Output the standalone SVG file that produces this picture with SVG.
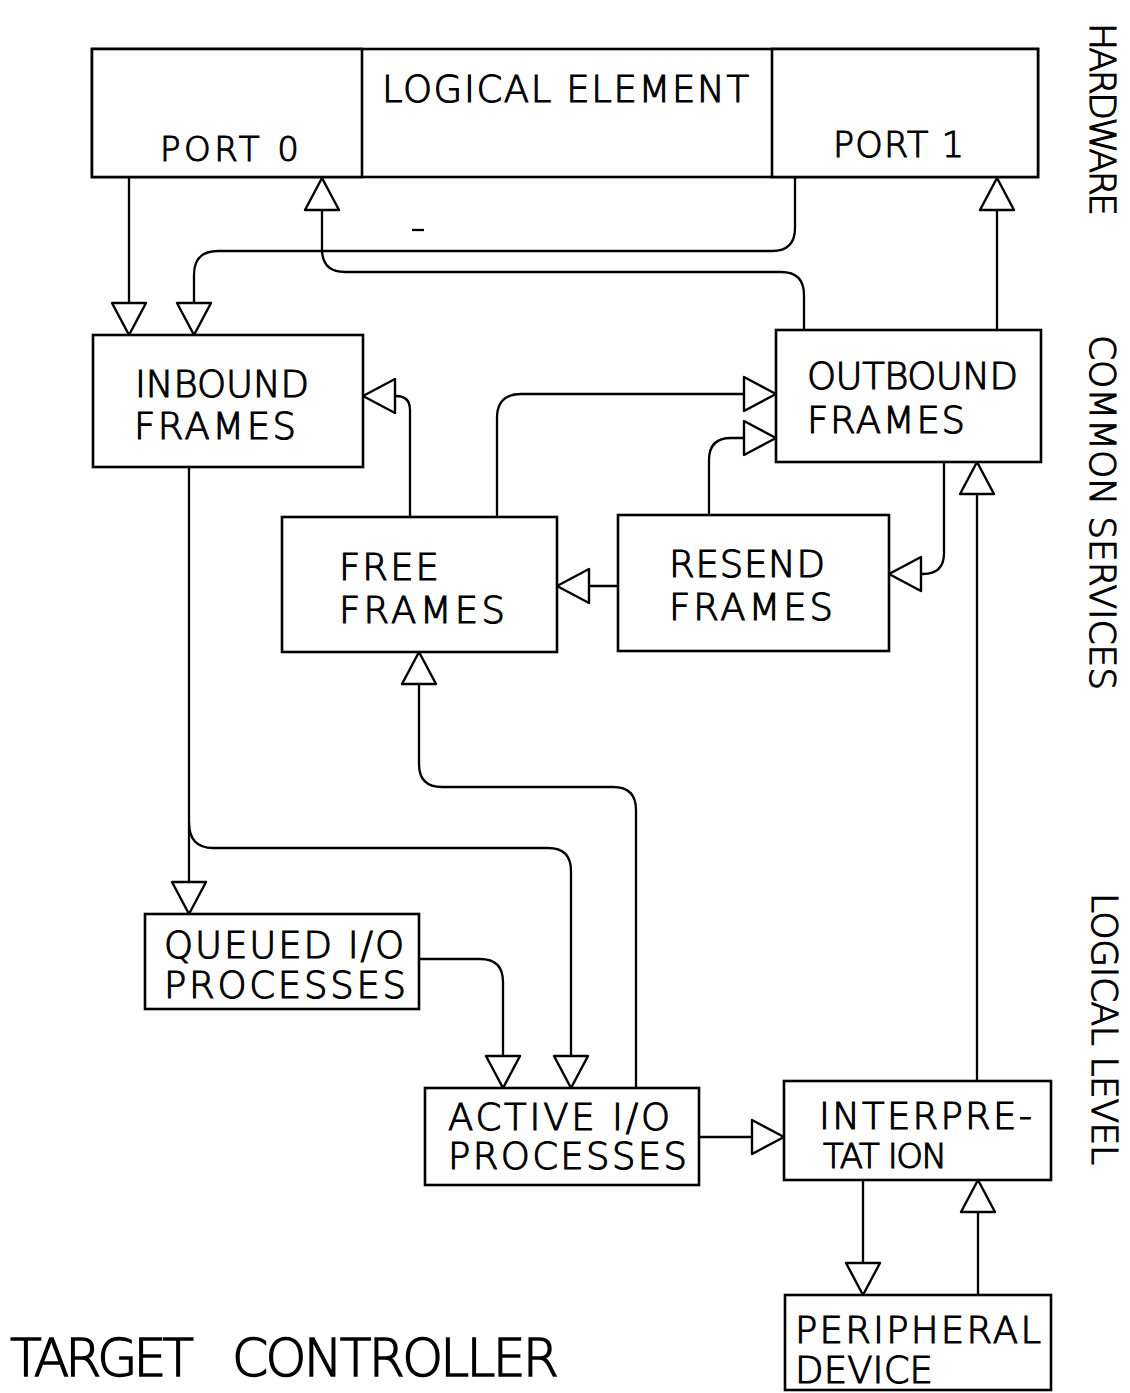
<svg xmlns="http://www.w3.org/2000/svg" width="1130" height="1393" viewBox="0 0 1130 1393">
<style>
.box{fill:#fff;stroke:#000;stroke-width:2.6}
.ln{fill:none;stroke:#000;stroke-width:2.3;marker-end:url(#ah)}
.plain{fill:none;stroke:#000;stroke-width:2.3}
.t{font-family:"DejaVu Sans","Liberation Sans",sans-serif;font-weight:200;font-size:37px;fill:#000;stroke:#000;stroke-width:1.1}
.big{font-size:52px;stroke-width:1.4}
</style>
<defs>
<marker id="ah" markerUnits="userSpaceOnUse" markerWidth="40" markerHeight="40" refX="32" refY="17" orient="auto" overflow="visible">
<path d="M0,0 L32,17 L0,34 Z" fill="#fff" stroke="#000" stroke-width="2.4" stroke-linejoin="round"/>
</marker>
</defs>
<rect width="1130" height="1393" fill="#fff"/>

<g id="connectors">
<path class="ln" d="M129 178 V335"/>
<path class="ln" d="M795 178 V228 Q795 251 772 251 H218 Q194 251 194 275 V335"/>
<path class="ln" d="M804 330 V295 Q804 272 781 272 H345 Q322 272 322 249 V178"/>
<path class="ln" d="M997 330 V178"/>
<path class="ln" d="M189 467 V914"/>
<path class="ln" d="M189 822 Q189 848 213 848 H548 Q571 848 571 871 V1088"/>
<path class="ln" d="M636 1088 V810 Q636 787 613 787 H442 Q419 787 419 764 V652"/>
<path class="ln" d="M419 959 H480 Q503 959 503 982 V1088"/>
<path class="ln" d="M699 1137 H784"/>
<path class="ln" d="M863 1180 V1295"/>
<path class="ln" d="M978 1295 V1180"/>
<path class="ln" d="M977 1081 V462"/>
<path class="ln" d="M410 517 V410 Q410 396 396 396 H363"/>
<path class="ln" d="M497 517 V418 Q497 394 521 394 H776"/>
<path class="ln" d="M709 515 V460 Q709 438 731 438 H776"/>
<path class="ln" d="M618 586 H557"/>
<path class="ln" d="M944 462 V553 Q944 574 923 574 H889"/>
<path class="plain" d="M412 230 H424" stroke-width="3"/>
</g>

<g id="logical-element">
<rect class="box" x="92" y="49" width="946" height="128"/>
<text class="t" x="382" y="102" textLength="367" lengthAdjust="spacing">LOGICAL ELEMENT</text>
</g>
<g id="port0">
<rect class="box" x="92" y="49" width="270" height="128"/>
<text class="t" x="160" y="161" style="font-size:34px" textLength="139" lengthAdjust="spacing">PORT 0</text>
</g>
<g id="port1">
<rect class="box" x="772" y="49" width="266" height="128"/>
<text class="t" x="833" y="157" style="font-size:35px" textLength="131" lengthAdjust="spacing">PORT 1</text>
</g>

<g id="inbound">
<rect class="box" x="93" y="335" width="270" height="132"/>
<text class="t" x="135" y="397" textLength="174" lengthAdjust="spacing">INBOUND</text>
<text class="t" x="134" y="439" textLength="162" lengthAdjust="spacing">FRAMES</text>
</g>

<g id="outbound">
<rect class="box" x="776" y="330" width="265" height="132"/>
<text class="t" x="807" y="389" textLength="211" lengthAdjust="spacing">OUTBOUND</text>
<text class="t" x="807" y="433" textLength="158" lengthAdjust="spacing">FRAMES</text>
</g>

<g id="free">
<rect class="box" x="282" y="517" width="275" height="135"/>
<text class="t" x="339" y="580" textLength="100" lengthAdjust="spacing">FREE</text>
<text class="t" x="339" y="623" textLength="166" lengthAdjust="spacing">FRAMES</text>
</g>

<g id="resend">
<rect class="box" x="618" y="515" width="271" height="136"/>
<text class="t" x="669" y="577" textLength="156" lengthAdjust="spacing">RESEND</text>
<text class="t" x="669" y="620" textLength="164" lengthAdjust="spacing">FRAMES</text>
</g>

<g id="queued">
<rect class="box" x="145" y="914" width="274" height="95"/>
<text class="t" x="164" y="958" textLength="240" lengthAdjust="spacing">QUEUED I/O</text>
<text class="t" x="164" y="998" textLength="242" lengthAdjust="spacing">PROCESSES</text>
</g>

<g id="active">
<rect class="box" x="425" y="1088" width="274" height="97"/>
<text class="t" x="448" y="1130" textLength="222" lengthAdjust="spacing">ACTIVE I/O</text>
<text class="t" x="448" y="1169" textLength="239" lengthAdjust="spacing">PROCESSES</text>
</g>

<g id="interpretation">
<rect class="box" x="784" y="1081" width="267" height="99"/>
<text class="t" x="819" y="1129" textLength="213" lengthAdjust="spacing">INTERPRE-</text>
<text class="t" x="823" y="1168" style="font-size:34px" textLength="124" lengthAdjust="spacing">TAT ION</text>
</g>

<g id="peripheral">
<rect class="box" x="785" y="1295" width="266" height="95"/>
<text class="t" x="795" y="1343" textLength="246" lengthAdjust="spacing">PERIPHERAL</text>
<text class="t" x="795" y="1383" textLength="138" lengthAdjust="spacing">DEVICE</text>
</g>

<g id="labels">
<text class="t" transform="translate(1090,23) rotate(90)" x="0" y="0" style="font-size:36px" textLength="193" lengthAdjust="spacing">HARDWARE</text>
<text class="t" transform="translate(1090,335) rotate(90)" x="0" y="0" style="font-size:36px" textLength="355" lengthAdjust="spacing">COMMON SERVICES</text>
<text class="t" transform="translate(1092,893) rotate(90)" x="0" y="0" style="font-size:36px" textLength="272" lengthAdjust="spacing">LOGICAL LEVEL</text>
<text class="t big" x="10" y="1376"><tspan x="10" textLength="184" lengthAdjust="spacing">TARGET</tspan><tspan x="232" textLength="327" lengthAdjust="spacing">CONTROLLER</tspan></text>
</g>
</svg>
